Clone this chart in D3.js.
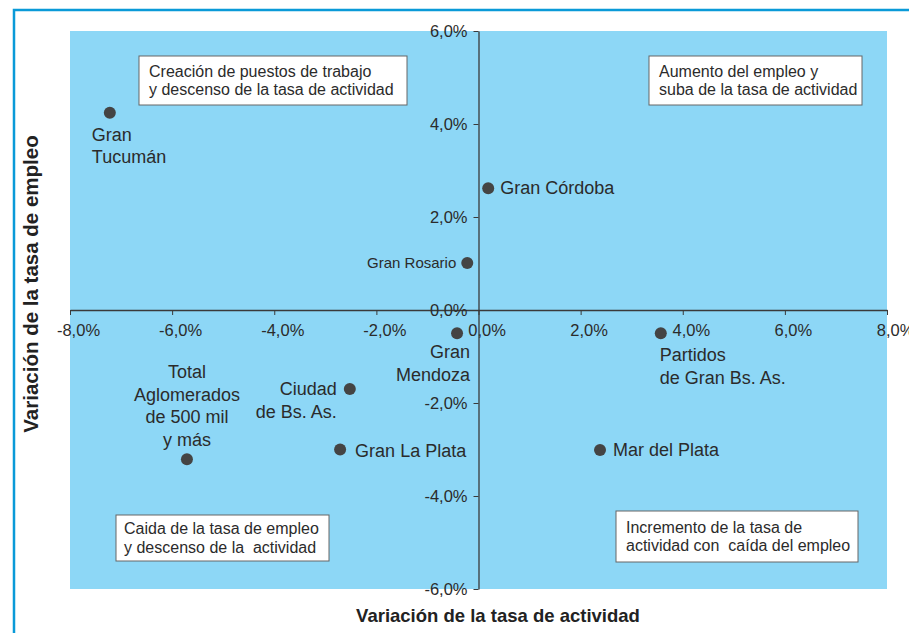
<!DOCTYPE html>
<html>
<head>
<meta charset="utf-8">
<script src="https://cdn.jsdelivr.net/npm/d3@7"></script>
<style>
  body { margin: 0; background: #fff; }
  svg { display: block; font-family: "Liberation Sans", Arial, sans-serif; }
</style>
</head>
<body>
<div class="svg-container"></div>
<script>
// data (percentage points)
const cities = [
  "Gran Tucumán", "Gran Córdoba", "Gran Rosario", "Gran Mendoza",
  "Partidos de Gran Bs. As.", "Mar del Plata", "Ciudad de Bs. As.",
  "Gran La Plata", "Total Aglomerados de 500 mil y más"
];
const activityChange = [-7.22, 0.19, -0.22, -0.42, 3.57, 2.38, -2.52, -2.71, -5.71];
const employmentChange = [4.24, 2.62, 1.01, -0.5, -0.5, -3.01, -1.7, -3.0, -3.21];
const pointLabels = [
  ["Gran", "Tucumán"], ["Gran Córdoba"], ["Gran Rosario"], ["Gran", "Mendoza"],
  ["Partidos", "de Gran Bs. As."], ["Mar del Plata"], ["Ciudad", "de Bs. As."],
  ["Gran La Plata"], ["Total", "Aglomerados", "de 500 mil", "y más"]
];
const xTicks = [-8, -6, -4, -2, 0, 2, 4, 6, 8];
const yTicks = [-6, -4, -2, 0, 2, 4, 6];
const quadrantNotes = [
  ["Creación de puestos de trabajo", "y descenso de la tasa de actividad"],
  ["Aumento del empleo y", "suba de la tasa de actividad"],
  ["Caida de la tasa de empleo", "y descenso de la  actividad"],
  ["Incremento de la tasa de", "actividad con  caída del empleo"]
];
const xTitle = "Variación de la tasa de actividad";
const yTitle = "Variación de la tasa de empleo";

// label placement relative to each dot
const labelLayout = [
  { anchor: "start", dx: -18, dy: 28, size: 18 },
  { anchor: "start", dx: 12, dy: 6, size: 18 },
  { anchor: "end", dx: -11, dy: 5, size: 15 },
  { anchor: "end", dx: 13, dy: 25, size: 18 },
  { anchor: "start", dx: -1, dy: 28, size: 18 },
  { anchor: "start", dx: 13, dy: 6, size: 18 },
  { anchor: "end", dx: -13, dy: 6, size: 18 },
  { anchor: "start", dx: 15, dy: 7, size: 18 },
  { anchor: "middle", dx: 0, dy: -81, size: 18 }
];
// note boxes, in pixels
const noteBoxes = [
  { x: 139, y: 56, w: 268, h: 49 },
  { x: 649, y: 56, w: 213, h: 49 },
  { x: 116, y: 515, w: 213, h: 46 },
  { x: 616, y: 511, w: 242, h: 51 }
];

const W = 909, H = 633;
const margin = { top: 31, left: 70 };
const width = 817, height = 558;
const fmt = (d) => d3.format(".1f")(d).replace(".", ",").replace("\u2212", "-") + "%";

const root = d3.select(".svg-container").append("svg")
  .attr("width", W).attr("height", H);

// outer frame
root.append("path")
  .attr("d", `M14,${H} V10 H${W}`)
  .attr("fill", "none")
  .attr("stroke", "#0a9ad8")
  .attr("stroke-width", 2.5);

const svg = root.append("g")
  .attr("transform", `translate(${margin.left},${margin.top})`);

const xScale = d3.scaleLinear().domain([-8, 8]).range([0, width]);
const yScale = d3.scaleLinear().domain([-6, 6]).range([height, 0]);

// plot background
svg.append("rect")
  .attr("width", width).attr("height", height)
  .attr("fill", "#8dd7f6");

// quadrant notes
noteBoxes.forEach((b, i) => {
  const g = root.append("g").attr("transform", `translate(${b.x},${b.y})`);
  g.append("rect")
    .attr("width", b.w).attr("height", b.h)
    .attr("fill", "#fff").attr("stroke", "#666").attr("stroke-width", 1);
  quadrantNotes[i].forEach((line, j) => {
    g.append("text")
      .attr("x", i === 2 ? 8 : 10)
      .attr("y", b.h / 2 + (j - 0.5) * 18.5 + 5.5)
      .attr("font-size", 16)
      .attr("fill", "#2b2b2b")
      .style("white-space", "pre")
      .text(line);
  });
});

// x axis through zero
const xAxis = svg.append("g")
  .attr("transform", `translate(0,${yScale(0)})`)
  .call(d3.axisBottom(xScale).tickValues(xTicks).tickSize(5).tickSizeOuter(0).tickFormat(fmt));
// y axis through zero
const yAxis = svg.append("g")
  .attr("transform", `translate(${xScale(0)},0)`)
  .call(d3.axisLeft(yScale).tickValues(yTicks).tickSize(5).tickSizeOuter(0).tickFormat(fmt));

[xAxis, yAxis].forEach((ax) => {
  ax.select(".domain").attr("stroke", "#3a3a3a").attr("stroke-width", 1.3);
  ax.selectAll(".tick line").attr("stroke", "#3a3a3a");
  ax.selectAll(".tick text")
    .attr("font-family", "'Liberation Sans', Arial, sans-serif")
    .attr("font-size", 16.5).attr("fill", "#2b2b2b");
});
xAxis.selectAll(".tick text").attr("dx", 8).attr("y", 14);
yAxis.selectAll(".tick text").attr("x", -11);

// points
svg.selectAll("circle.pt")
  .data(cities)
  .enter().append("circle")
  .attr("class", "pt")
  .attr("cx", (d, i) => xScale(activityChange[i]))
  .attr("cy", (d, i) => yScale(employmentChange[i]))
  .attr("r", 6)
  .attr("fill", "#444");

// point labels
cities.forEach((c, i) => {
  const l = labelLayout[i];
  const t = svg.append("text")
    .attr("text-anchor", l.anchor)
    .attr("font-size", l.size)
    .attr("fill", "#2b2b2b");
  pointLabels[i].forEach((line, j) => {
    t.append("tspan")
      .attr("x", xScale(activityChange[i]) + l.dx)
      .attr("y", yScale(employmentChange[i]) + l.dy + j * 22.5)
      .text(line);
  });
});

// axis titles
root.append("text")
  .attr("x", 498).attr("y", 622)
  .attr("text-anchor", "middle")
  .attr("font-size", 18.5).attr("font-weight", "bold").attr("fill", "#222")
  .text(xTitle);
root.append("text")
  .attr("transform", "translate(38,284) rotate(-90)")
  .attr("text-anchor", "middle")
  .attr("font-size", 20.5).attr("font-weight", "bold").attr("fill", "#222")
  .text(yTitle);
</script>
</body>
</html>
